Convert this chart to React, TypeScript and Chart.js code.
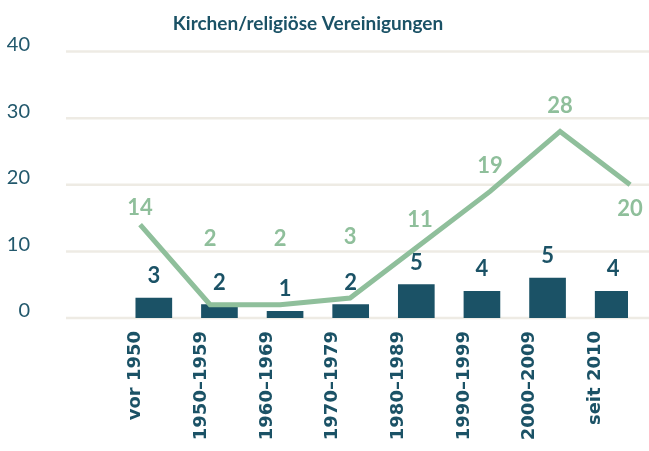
import React, { useEffect, useRef } from "react";
import { Chart, registerables } from "chart.js";

Chart.register(...registerables);

const title = "Kirchen/religiöse Vereinigungen";
const categories = ["vor 1950", "1950–1959", "1960–1969", "1970–1979", "1980–1989", "1990–1999", "2000–2009", "seit 2010"];
const barValues = [3, 2, 1, 2, 5, 4, 6, 4];
const barLabels = ["3", "2", "1", "2", "5", "4", "5", "4"];
const lineValues = [14, 2, 2, 3, 11, 19, 28, 20];
const yTicks = [0, 10, 20, 30, 40];

// styles
const DARK = "#1b5266";
const GREEN = "#8fbf9b";
const GRID = "#eeebe4";
const lineLabelOffsets = [-17, -66, -66, -61, -25, -26, -26, 24];
const lineAxisMin = -0.53;
const lineAxisMax = 6.97;

const overlay = {
  id: "overlay",
  beforeDatasetsDraw(chart: any) {
    const ctx = chart.ctx;
    const y = chart.scales.y;
    ctx.save();
    ctx.strokeStyle = GRID;
    ctx.lineWidth = 2.5;
    for (const t of yTicks) {
      const py = y.getPixelForValue(t);
      ctx.beginPath();
      ctx.moveTo(66, py);
      ctx.lineTo(chart.width, py);
      ctx.stroke();
    }
    ctx.fillStyle = "#22586c";
    ctx.font = "20px Lato";
    ctx.textAlign = "right";
    ctx.textBaseline = "middle";
    for (const t of yTicks) {
      const py = y.getPixelForValue(t);
      ctx.fillText(String(t), 30, py - 7);
    }
    ctx.fillStyle = DARK;
    ctx.font = "bold 19px Lato";
    ctx.textAlign = "center";
    ctx.fillText(title, 308, 24);
    ctx.restore();
  },
  afterDatasetsDraw(chart: any) {
    const ctx = chart.ctx;
    ctx.save();
    ctx.textAlign = "center";
    ctx.textBaseline = "middle";
    ctx.font = "bold 22px Lato";
    const bars = chart.getDatasetMeta(1).data;
    ctx.fillStyle = DARK;
    bars.forEach((el: any, i: number) => {
      ctx.fillText(barLabels[i], el.x, el.y - 22);
    });
    const pts = chart.getDatasetMeta(0).data;
    ctx.fillStyle = GREEN;
    pts.forEach((el: any, i: number) => {
      ctx.fillText(String(lineValues[i]), el.x, el.y + lineLabelOffsets[i]);
    });
    ctx.restore();
  },
};

export default function App() {
  const ref = useRef<HTMLCanvasElement>(null);
  useEffect(() => {
    if (!ref.current) return;
    const chart = new Chart(ref.current, {
      type: "bar",
      data: {
        labels: categories,
        datasets: [
          {
            type: "line",
            data: lineValues.map((v, i) => ({ x: i, y: v })),
            xAxisID: "x2",
            borderColor: GREEN,
            borderWidth: 5,
            pointRadius: 0,
            borderJoinStyle: "miter",
            tension: 0,
            clip: false,
            order: 0,
          } as any,
          {
            type: "bar",
            data: barValues,
            xAxisID: "x",
            backgroundColor: DARK,
            barThickness: 36,
            order: 1,
          },
        ],
      },
      options: {
        responsive: false,
        animation: false,
        layout: { padding: { left: 103, right: 21, top: 51.5, bottom: 0 } },
        plugins: { legend: { display: false }, tooltip: { enabled: false }, title: { display: false } },
        scales: {
          x: {
            type: "category",
            offset: true,
            grid: { display: false, drawTicks: false },
            border: { display: false },
            ticks: {
              autoSkip: false,
              minRotation: 90,
              maxRotation: 90,
              padding: 13,
              color: DARK,
              font: { family: "DejaVu Sans", weight: "bold", size: 18 },
            },
            afterFit(scale: any) {
              scale.height = 133;
            },
          },
          x2: {
            type: "linear",
            display: false,
            offset: false,
            grid: { offset: false },
            min: lineAxisMin,
            max: lineAxisMax,
          },
          y: {
            display: false,
            min: 0,
            max: 40,
          },
        },
      },
      plugins: [overlay],
    });
    return () => chart.destroy();
  }, []);
  return (
    <div style={{ position: "absolute", left: 0, top: 0, width: 649, height: 451, background: "#fff" }}>
      <canvas ref={ref} width={649} height={451} style={{ display: "block" }} />
    </div>
  );
}
